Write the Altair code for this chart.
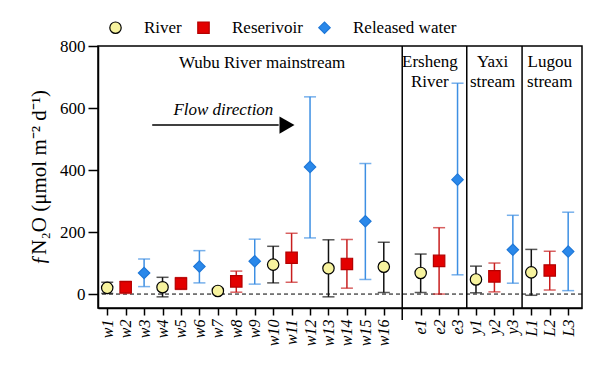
import altair as alt
import pandas as pd

# ---------------- data ----------------
sites = ["w1", "w2", "w3", "w4", "w5", "w6", "w7", "w8", "w9", "w10", "w11", "w12",
         "w13", "w14", "w15", "w16", "e1", "e2", "e3", "y1", "y2", "y3", "L1", "L2", "L3"]
positions = [0, 1, 2, 3, 4, 5, 6, 7, 8, 9, 10, 11, 12, 13, 14, 15,
             17, 18, 19, 20, 21, 22, 23, 24, 25]
kinds = ["River", "Reserivoir", "Released water"] * 5 + ["River"] + \
        ["River", "Reserivoir", "Released water"] * 3
means = [20, 22, 68, 22, 34, 89, 10, 41, 106, 95, 117, 410, 83, 97, 235, 88,
         68, 107, 369, 47, 57, 143, 70, 76, 137]
lows = [2, 2, 24, -9, 15, 36, 1, 6, 32, 36, 38, 181, -9, 19, 47, 5,
        5, 0, 62, 4, 7, 35, -4, 13, 11]
highs = [38, 41, 113, 54, 53, 140, 18, 74, 177, 154, 196, 636, 175, 176, 421, 167,
         129, 214, 680, 90, 100, 254, 144, 138, 264]

kind_order = ["River", "Reserivoir", "Released water"]
fill_colors = ["#f7f39e", "#e30000", "#2a88ea"]
stroke_colors = ["#000000", "#b40000", "#1f78d8"]
bar_colors = ["#111111", "#c81e1e", "#3d8fe3"]
shapes = ["circle", "square", "diamond"]

separator_pos = [16, 19.5, 22.5]

group_x = [8.4, 17.5, 17.5, 20.9, 20.9, 24.0, 24.0]
group_y = [745, 749, 685, 749, 685, 749, 685]
group_text = ["Wubu River mainstream", "Ersheng", "River", "Yaxi", "stream", "Lugou", "stream"]

flow_x = [6.3]
flow_y = [593]
flow_text = ["Flow direction"]
arrow_x = [2.44]
arrow_x2 = [9.3]
arrow_y = [545]
arrow_head_x = [9.75]

FONT = "Liberation Serif"

df = pd.DataFrame({"site": sites, "pos": positions, "kind": kinds,
                   "mean": means, "low": lows, "high": highs})

x_scale = alt.Scale(domain=[-0.5, 25.75], nice=False, zero=False)
y_scale = alt.Scale(domain=[-45, 800], nice=False, zero=False)

label_array = sites[:16] + [""] + sites[16:]
label_expr = "[" + ",".join("'" + s + "'" for s in label_array) + "][datum.value]"

x_axis = alt.Axis(values=positions, labelExpr=label_expr, labelAngle=270,
                  labelFontStyle="italic", labelFontSize=16,
                  tickSize=7, title=None,
                  labelPadding=4, labelOverlap=False, labelBound=False, labelFlush=False)
y_axis = alt.Axis(values=[0, 200, 400, 600, 800], labelFontSize=17,
                  tickSize=10,
                  title="ƒN₂O (μmol m⁻² d⁻¹)", titleFontSize=21,
                  titleFontWeight="normal", titlePadding=10,
                  labelPadding=3, labelOverlap=False)

X = alt.X("pos:Q", scale=x_scale, axis=x_axis)
Y = alt.Y("v:Q", scale=y_scale, axis=y_axis)

base = alt.Chart(df)

zero_line = alt.Chart(pd.DataFrame({"v": [0]})).mark_rule(
    strokeDash=[4, 3], color="black", strokeWidth=1).encode(y=Y)

err = base.mark_rule(strokeWidth=1.5).encode(
    x=X, y=alt.Y("low:Q", scale=y_scale), y2="high:Q",
    color=alt.Color("kind:N", scale=alt.Scale(domain=kind_order, range=bar_colors), legend=None))

seps = alt.Chart(pd.DataFrame({"p": separator_pos})).mark_rule(
    color="black", strokeWidth=1.5).encode(x=alt.X("p:Q", scale=x_scale, axis=x_axis))

sep_ext = alt.Chart(pd.DataFrame({"p": separator_pos[:1]})).mark_rule(
    color="black", strokeWidth=1.5).encode(
    x=alt.X("p:Q", scale=x_scale, axis=x_axis), y=alt.value(262), y2=alt.value(274))

caps = base.transform_fold(["low", "high"], as_=["end", "val"]).mark_tick(
    orient="horizontal", size=12, thickness=1.5).encode(
    x=X, y=alt.Y("val:Q", scale=y_scale),
    color=alt.Color("kind:N", scale=alt.Scale(domain=kind_order, range=bar_colors), legend=None))

legend = alt.Legend(title=None, orient="none", legendX=9, legendY=-27,
                    direction="horizontal", labelFontSize=17,
                    symbolSize=130, labelOffset=20,
                    columnPadding=13, symbolStrokeWidth=1.2, padding=0)

points = base.mark_point(filled=True, size=130, strokeWidth=1.2, opacity=1).encode(
    x=X,
    y=alt.Y("mean:Q", scale=y_scale),
    fill=alt.Fill("kind:N", scale=alt.Scale(domain=kind_order, range=fill_colors), legend=legend),
    stroke=alt.Stroke("kind:N", scale=alt.Scale(domain=kind_order, range=stroke_colors), legend=legend),
    shape=alt.Shape("kind:N", scale=alt.Scale(domain=kind_order, range=shapes), legend=legend),
)

groups = alt.Chart(pd.DataFrame({"x": group_x, "y": group_y, "t": group_text})).mark_text(
    fontSize=17, color="black", align="center", baseline="middle").encode(
    x=alt.X("x:Q", scale=x_scale, axis=x_axis), y=alt.Y("y:Q", scale=y_scale), text="t:N")

flow = alt.Chart(pd.DataFrame({"x": flow_x, "y": flow_y, "t": flow_text})).mark_text(
    fontSize=17, fontStyle="italic", color="black", align="center",
    baseline="middle").encode(
    x=alt.X("x:Q", scale=x_scale, axis=x_axis), y=alt.Y("y:Q", scale=y_scale), text="t:N")

arrow = alt.Chart(pd.DataFrame({"x": arrow_x, "x2": arrow_x2, "y": arrow_y})).mark_rule(
    color="black", strokeWidth=1.5).encode(
    x=alt.X("x:Q", scale=x_scale, axis=x_axis), x2="x2:Q", y=alt.Y("y:Q", scale=y_scale))

head = alt.Chart(pd.DataFrame({"x": arrow_head_x, "y": arrow_y})).mark_point(
    shape="triangle-right", filled=True, color="black", size=300, opacity=1).encode(
    x=alt.X("x:Q", scale=x_scale, axis=x_axis), y=alt.Y("y:Q", scale=y_scale))

chart = alt.layer(zero_line, err, seps, sep_ext, caps, points, groups, flow, arrow, head).resolve_scale(
    color="independent"
).properties(
    width=484, height=262,
    padding={"left": 90, "top": 38, "right": 16, "bottom": 60},
    autosize=alt.AutoSizeParams(type="none"),
).configure(
    background="white", font=FONT
).configure_view(
    stroke="black", strokeWidth=1.5
).configure_axis(
    labelFont=FONT, titleFont=FONT, labelColor="black", titleColor="black",
    tickColor="black", tickWidth=1.5, domainColor="black", domainWidth=1.5,
    grid=False, labelOverlap=False
).configure_legend(
    labelFont=FONT, labelColor="black"
).configure_text(font=FONT)

chart.save("out.html", embed_options={"renderer": "svg", "actions": False})
